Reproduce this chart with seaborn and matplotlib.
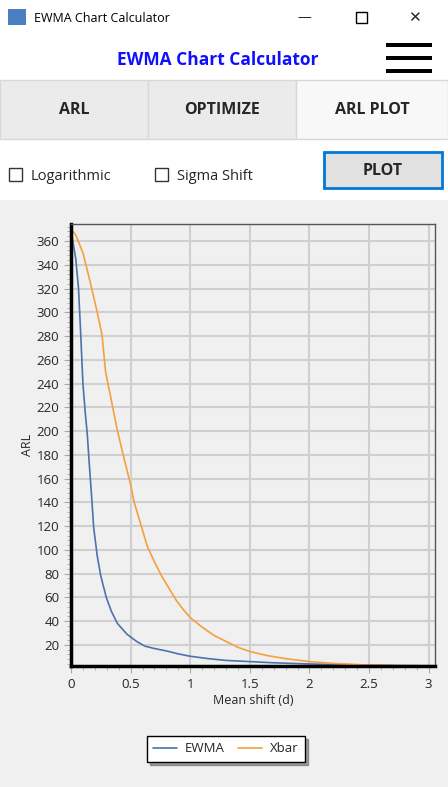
import matplotlib
matplotlib.use("Agg")
import matplotlib.pyplot as plt
import seaborn as sns
import pandas as pd
from matplotlib.patches import Rectangle

ewma_x = [0, 0.015, 0.04, 0.063, 0.08, 0.1, 0.12, 0.136, 0.155, 0.175, 0.19, 0.22, 0.25, 0.296, 0.34, 0.39, 0.47, 0.55, 0.62, 0.7, 0.8, 0.9, 1.0, 1.15, 1.3, 1.5, 1.7, 2.0, 2.25, 2.5, 2.75, 3.05]
ewma_y = [370, 360, 345, 320, 285, 240, 215, 198, 170, 142, 119, 95, 78, 60, 48, 38, 29, 23, 19, 17, 15, 12.5, 10.5, 8.5, 7, 6, 5, 4, 3.5, 3, 2.7, 2.5]
xbar_x = [0, 0.04, 0.1, 0.15, 0.22, 0.26, 0.29, 0.34, 0.39, 0.45, 0.5, 0.53, 0.59, 0.64, 0.7, 0.76, 0.82, 0.88, 0.94, 1.0, 1.1, 1.2, 1.3, 1.4, 1.5, 1.65, 1.8, 2.0, 2.2, 2.5, 2.8, 3.05]
xbar_y = [370, 365, 350, 330, 300, 281, 250, 225, 200, 175, 155, 140, 120, 103, 90, 78, 68, 58, 50, 43, 35, 28, 23, 18, 14.5, 11, 8.5, 6, 4.5, 3, 2.3, 2]
x_ticks = [0, 0.5, 1, 1.5, 2, 2.5, 3]
x_labels = ["0", "0.5", "1", "1.5", "2", "2.5", "3"]
y_ticks = list(range(20, 361, 20))

df = pd.concat([
    pd.DataFrame({"x": ewma_x, "y": ewma_y, "s": "EWMA"}),
    pd.DataFrame({"x": xbar_x, "y": xbar_y, "s": "Xbar"}),
])

sns.set_style("white")
plt.rcParams['font.family'] = ['Open Sans', 'DejaVu Sans']

W, H = 448, 787
fig = plt.figure(figsize=(W/100, H/100), dpi=100)
fig.patch.set_facecolor("white")

def rect(x, y, w, h, fc, ec="none", lw=1, z=0):
    fig.add_artist(Rectangle((x/W, 1-(y+h)/H), w/W, h/H, transform=fig.transFigure,
                             facecolor=fc, edgecolor=ec, linewidth=lw, zorder=z))

def txt(x, y, s, **kw):
    fig.text(x/W, 1-y/H, s, **kw)

# title bar
rect(8, 9, 18, 16, "#4a7fc0")
txt(34, 18, "EWMA Chart Calculator", fontsize=9, va="center", color="black")
txt(304, 18, "—", fontsize=10, va="center", ha="center")
rect(356, 12, 11, 11, "none", ec="black")
txt(414, 18, "✕", fontsize=11, va="center", ha="center", family=['DejaVu Sans'])
# header
txt(218, 60, "EWMA Chart Calculator", fontsize=12.5, fontweight="bold", color="#1010ff", ha="center", va="center")
for yy in (45, 58, 71):
    rect(386, yy-2, 46, 4, "black")
# tabs
rect(0, 80, 448, 60, "#f0f0f0")
rect(0, 80, 148, 59, "#ebebeb", ec="#d8d8d8")
rect(148, 80, 148, 59, "#ebebeb", ec="#d8d8d8")
rect(296, 80, 152, 59, "#f8f8f8", ec="#d8d8d8")
txt(74, 110, "ARL", fontsize=11.5, fontweight="bold", ha="center", va="center")
txt(222, 110, "OPTIMIZE", fontsize=11.5, fontweight="bold", ha="center", va="center")
txt(372, 110, "ARL PLOT", fontsize=11.5, fontweight="bold", ha="center", va="center")
# checkboxes
rect(9, 168, 13, 13, "white", ec="#333333")
txt(31, 176, "Logarithmic", fontsize=10.5, va="center")
rect(155, 168, 13, 13, "white", ec="#333333")
txt(177, 176, "Sigma Shift", fontsize=10.5, va="center")
rect(324, 152, 118, 36, "#e1e1e1", ec="#0078d7", lw=2)
txt(383, 171, "PLOT", fontsize=11.5, fontweight="bold", ha="center", va="center")
# panel
rect(0, 200, 448, 587, "#f0f0f0")

ax = fig.add_axes([71/W, 1-666/H, (435-71)/W, (666-224)/H])
ax.set_facecolor("#f0f0f0")
sns.lineplot(data=df, x="x", y="y", hue="s", palette=["#4c72b0", "#f5a040"],
             linewidth=1.2, ax=ax, legend=False, sort=False)
ax.set_xlim(0, 3.053)
ax.set_ylim(2.3, 374.3)
ax.set_xticks(x_ticks)
ax.set_xticklabels(x_labels)
ax.set_yticks(y_ticks)
ax.set_xticks([i*0.1 for i in range(31)], minor=True)
ax.set_yticks(list(range(4, 374, 4)), minor=True)
ax.grid(True, color="#cfcfcf", linewidth=1.5)
ax.set_axisbelow(True)
ax.tick_params(axis="both", which="major", labelsize=9.5, length=5, color="#aaaaaa", direction="out")
ax.tick_params(axis="both", which="minor", length=3, color="#aaaaaa", direction="out")
ax.tick_params(left=True, bottom=True, which="both")
for s in ("left", "bottom"):
    ax.spines[s].set_linewidth(2.5)
    ax.spines[s].set_color("black")
for s in ("top", "right"):
    ax.spines[s].set_linewidth(1)
    ax.spines[s].set_color("#555555")
ax.set_xlabel("Mean shift (d)", fontsize=9, labelpad=2)
ax.set_ylabel("ARL", fontsize=9, labelpad=2)

from matplotlib.lines import Line2D
handles = [Line2D([], [], color="#4c72b0", lw=1.2), Line2D([], [], color="#f5a040", lw=1.2)]
leg = fig.legend(handles, ["EWMA", "Xbar"], loc="center", bbox_to_anchor=(226/W, 1-749/H),
                 ncol=2, fontsize=9.5, frameon=True, fancybox=False, shadow=True,
                 framealpha=1, edgecolor="black", handlelength=1.8, handletextpad=0.6,
                 columnspacing=1.0, borderpad=0.5)
leg.get_frame().set_linewidth(1)

fig.savefig("out.png", dpi=100, facecolor=fig.get_facecolor())
